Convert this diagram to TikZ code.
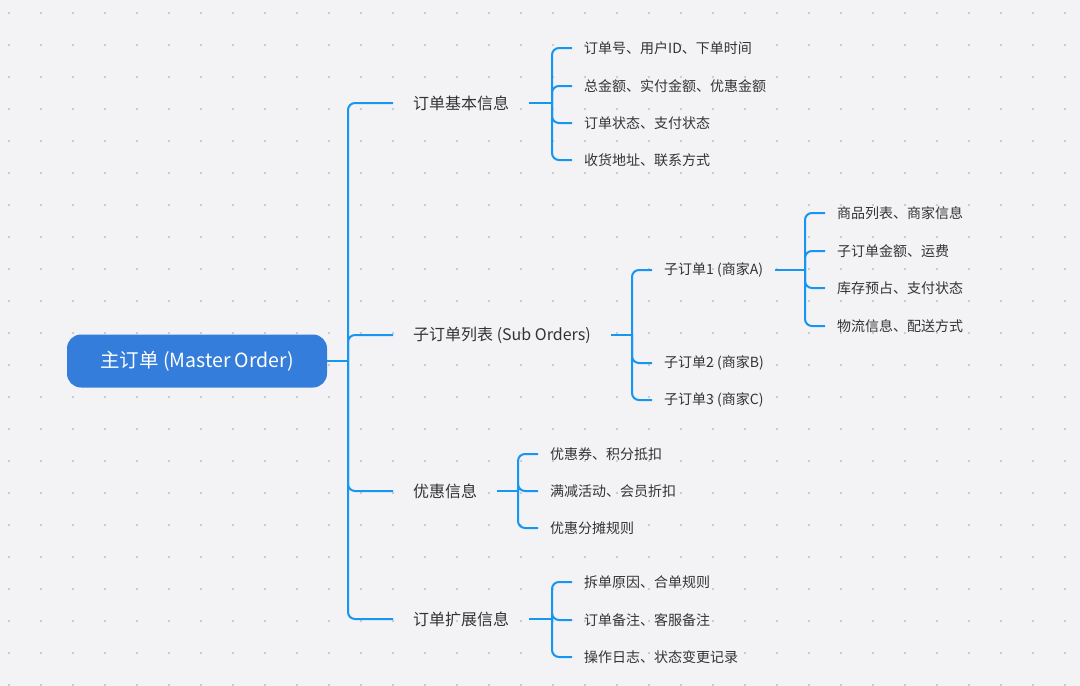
\documentclass[tikz,border=0pt]{standalone}
\usepackage{fontspec}
\setmainfont{Noto Sans CJK SC}
\usetikzlibrary{positioning}
\definecolor{bg}{RGB}{243,243,246}
\definecolor{link}{RGB}{22,150,240}
\definecolor{rootblue}{RGB}{52,125,218}
\definecolor{ink}{RGB}{51,51,51}
\tikzstyle{root}=[rectangle, rounded corners=14pt, fill=rootblue, text=white, minimum width=260pt, minimum height=53pt, font=\fontsize{19.5}{22}\selectfont]
\tikzstyle{topic}=[anchor=west, inner xsep=20pt, inner ysep=0pt, text=ink, font=\fontsize{16}{18}\selectfont]
\tikzstyle{leaf}=[anchor=west, inner xsep=12pt, inner ysep=0pt, text=ink, font=\fontsize{14}{16}\selectfont]
\tikzstyle{wire}=[draw=link, line width=2pt, rounded corners=7pt]
\begin{document}
\begin{tikzpicture}[x=1pt, y=-1pt]
            \fill[bg] (0,0) rectangle (1080,686);
            \useasboundingbox (0,0) rectangle (1080,686);
            % dotted grid
            \foreach \i in {0,...,33}{
                \foreach \j in {0,...,21}{
                    \fill[gray!50] (9+32*\i,13+32*\j) circle (1.1pt);
                }
            }
            % root
            \node[root](master) at (197,361){主订单 (Master Order)};
            \node[topic](base) at (393,103){订单基本信息};
            \node[topic](subs) at (393,335){子订单列表 (Sub Orders)};
            \node[topic](promo) at (393,491){优惠信息};
            \node[topic](ext) at (393,619){订单扩展信息};
            \draw[wire] (master.east) -- (348,361);
            \foreach \t in {base,subs,promo,ext}{
                \draw[wire] (348,361) |- (\t.west);
            }
            % basic info
            \node[leaf](b1) at (572,48){订单号、用户ID、下单时间};
            \node[leaf](b2) at (572,86){总金额、实付金额、优惠金额};
            \node[leaf](b3) at (572,123){订单状态、支付状态};
            \node[leaf](b4) at (572,160){收货地址、联系方式};
            \draw[wire] (base.east) -- (552,103);
            \foreach \n in {1,...,4}{
                \draw[wire] (552,103) |- (b\n.west);
            }
            % sub orders
            \node[leaf](s1) at (652,270){子订单1 (商家A)};
            \node[leaf](s2) at (652,363){子订单2 (商家B)};
            \node[leaf](s3) at (652,400){子订单3 (商家C)};
            \draw[wire] (subs.east) -- (632,335);
            \foreach \n in {1,2,3}{
                \draw[wire] (632,335) |- (s\n.west);
            }
            % merchant A
            \node[leaf](a1) at (825,213){商品列表、商家信息};
            \node[leaf](a2) at (825,251){子订单金额、运费};
            \node[leaf](a3) at (825,288){库存预占、支付状态};
            \node[leaf](a4) at (825,326){物流信息、配送方式};
            \draw[wire] (s1.east) -- (805,270);
            \foreach \n in {1,...,4}{
                \draw[wire] (805,270) |- (a\n.west);
            }
            % promotions
            \node[leaf](p1) at (538,454){优惠券、积分抵扣};
            \node[leaf](p2) at (538,491){满减活动、会员折扣};
            \node[leaf](p3) at (538,528){优惠分摊规则};
            \draw[wire] (promo.east) -- (518,491);
            \foreach \n in {1,2,3}{
                \draw[wire] (518,491) |- (p\n.west);
            }
            % extension
            \node[leaf](e1) at (572,582){拆单原因、合单规则};
            \node[leaf](e2) at (572,620){订单备注、客服备注};
            \node[leaf](e3) at (572,657){操作日志、状态变更记录};
            \draw[wire] (ext.east) -- (552,619);
            \foreach \n in {1,2,3}{
                \draw[wire] (552,619) |- (e\n.west);
            }
        \end{tikzpicture}
\end{document}
